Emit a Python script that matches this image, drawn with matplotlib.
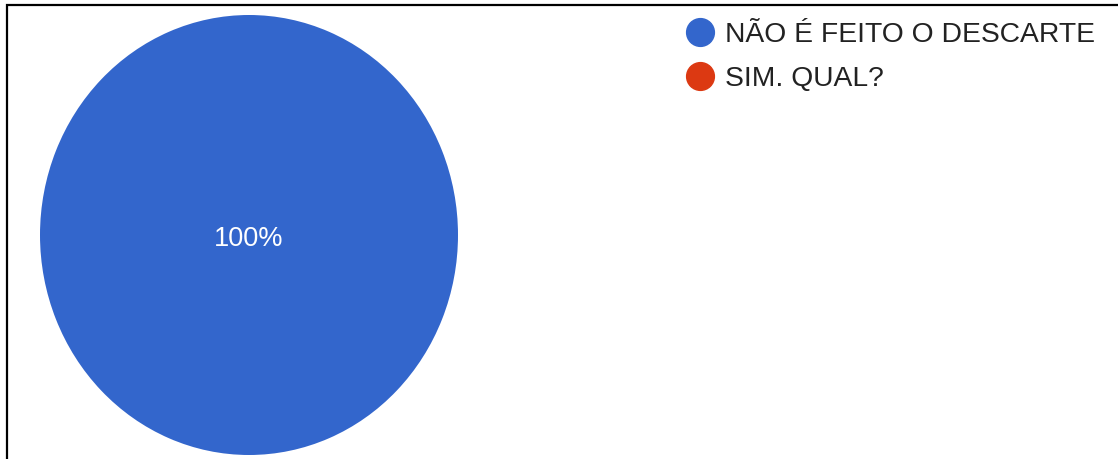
import matplotlib
matplotlib.use("Agg")
import matplotlib.pyplot as plt
from matplotlib.lines import Line2D
from matplotlib.patches import Rectangle

plt.rcParams['font.family'] = ['Liberation Sans', 'DejaVu Sans']

labels = ["NÃO É FEITO O DESCARTE", "SIM. QUAL?"]
values = [100, 0]
colors = ["#3366CC", "#DC3912"]

W, H = 1118, 459
fig = plt.figure(figsize=(W / 100, H / 100), dpi=100)

# pie area (pixels, from top-left): slightly stretched ellipse
cx, cy, rx, ry = 249, 235, 209, 220
ax = fig.add_axes([(cx - rx) / W, 1 - (cy + ry) / H, 2 * rx / W, 2 * ry / H])
wedges, texts, autotexts = ax.pie(
    values, colors=colors, startangle=90, counterclock=False,
    autopct=lambda p: f"{p:.0f}%" if p > 0 else "", pctdistance=0.02,
    textprops=dict(color="white", fontsize=19.5),
    wedgeprops=dict(linewidth=0),
)
ax.set_aspect("auto")
ax.set_xlim(-1, 1)
ax.set_ylim(-1, 1)
ax.axis("off")

handles = [Line2D([], [], linestyle="none", marker="o", markersize=20,
                  markerfacecolor=c, markeredgecolor=c) for c in colors]
fig.legend(handles, labels, loc="upper left", bbox_to_anchor=(686 / W, 1 - 22 / H),
           frameon=False, fontsize=20.3, labelcolor="#222222",
           handlelength=1.0, handletextpad=0.39, labelspacing=0.65,
           borderaxespad=0, borderpad=0)

# scan frame: only top and left edges fall inside the image
fig.patches.append(Rectangle((7 / W, -0.1), 1.2, 1 - 5 / H + 0.1,
                             transform=fig.transFigure, fill=False,
                             edgecolor="black", linewidth=1.6, zorder=10))

fig.savefig("out.png", dpi=100, facecolor="white")
